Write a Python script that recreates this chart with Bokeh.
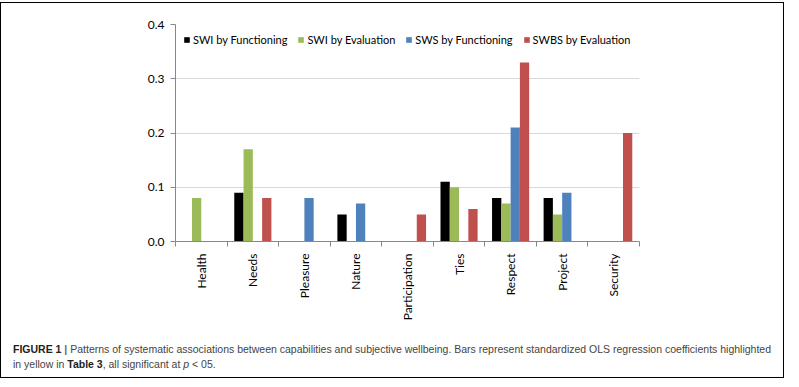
import math
import numpy as np
from bokeh.plotting import figure
from bokeh.models import Range1d, FixedTicker, Legend, LegendItem, Div, ColumnDataSource
from bokeh.layouts import column
from bokeh.transform import dodge
from bokeh.embed import file_html
from bokeh.resources import INLINE

categories = ["Health", "Needs", "Pleasure", "Nature", "Participation",
              "Ties", "Respect", "Project", "Security"]
swi_functioning = [0.0, 0.09, 0.0, 0.05, 0.0, 0.11, 0.08, 0.08, 0.0]
swi_evaluation = [0.08, 0.17, 0.0, 0.0, 0.0, 0.10, 0.07, 0.05, 0.0]
sws_functioning = [0.0, 0.0, 0.08, 0.07, 0.0, 0.0, 0.21, 0.09, 0.0]
swbs_evaluation = [0.0, 0.08, 0.0, 0.0, 0.05, 0.06, 0.33, 0.0, 0.20]
series_names = ["SWI by Functioning", "SWI by Evaluation",
                "SWS by Functioning", "SWBS by Evaluation"]
series_colors = ["#000000", "#9BBB59", "#4F81BD", "#C0504D"]
y_ticks = [0.0, 0.1, 0.2, 0.3, 0.4]

n = len(categories)
centers = list(np.arange(n) + 0.5)
source = ColumnDataSource(dict(
    x=centers, s0=swi_functioning, s1=swi_evaluation,
    s2=sws_functioning, s3=swbs_evaluation))

FONT = "Lato"

p = figure(frame_width=464, frame_height=217, x_range=Range1d(0, n), y_range=Range1d(0, 0.4),
           output_backend="svg", toolbar_location=None,
           min_border_left=174, min_border_right=140, min_border_top=21,
           min_border_bottom=89)
p.outline_line_color = None
p.xgrid.grid_line_color = None
p.ygrid.grid_line_color = "#d9d9d9"
p.ygrid.ticker = FixedTicker(ticks=y_ticks)

offsets = [-0.27, -0.09, 0.09, 0.27]
renderers = []
for i, (name, col) in enumerate(zip(series_names, series_colors)):
    r = p.vbar(x=dodge("x", offsets[i]), top="s%d" % i, width=0.18, source=source,
               fill_color=col, line_color=None)
    renderers.append(r)

# y axis
p.yaxis.ticker = FixedTicker(ticks=y_ticks)
p.yaxis.major_label_overrides = {t: "%.1f" % t for t in y_ticks}
p.yaxis.axis_line_color = "#888888"
p.yaxis.major_tick_line_color = "#888888"
p.yaxis.major_tick_out = 5
p.yaxis.major_tick_in = 0
p.yaxis.minor_tick_line_color = None
p.yaxis.major_label_text_font = FONT
p.yaxis.major_label_text_font_size = "12px"
p.yaxis.major_label_text_color = "#000000"
p.yaxis.major_label_standoff = 6

# x axis: labels at centres, ticks at boundaries
p.xaxis.ticker = FixedTicker(ticks=centers, minor_ticks=list(range(n + 1)))
p.xaxis.major_label_overrides = {c: lab for c, lab in zip(centers, categories)}
p.xaxis.major_label_orientation = math.pi / 2
p.xaxis.axis_line_color = "#888888"
p.xaxis.major_tick_line_color = None
p.xaxis.major_tick_out = 0
p.xaxis.major_tick_in = 0
p.xaxis.minor_tick_line_color = "#888888"
p.xaxis.minor_tick_out = 5
p.xaxis.minor_tick_in = 0
p.xaxis.major_label_text_font = FONT
p.xaxis.major_label_text_font_size = "12px"
p.xaxis.major_label_text_color = "#000000"
p.xaxis.major_label_standoff = 7

legend = Legend(items=[LegendItem(label=nm, renderers=[r]) for nm, r in zip(series_names, renderers)],
                orientation="horizontal", location="top_left",
                margin=8, padding=0, spacing=10, glyph_width=7, glyph_height=7,
                label_standoff=3, label_height=14, label_text_font=FONT,
                label_text_font_size="11px", label_text_color="#000000",
                background_fill_alpha=0, border_line_color=None)
p.add_layout(legend, "center")

caption = Div(text=(
    '<b style="color:#222">FIGURE 1</b> <b style="color:#666">|</b> Patterns of systematic associations between '
    'capabilities and subjective wellbeing. Bars represent standardized OLS regression coefficients highlighted '
    'in yellow in <b style="color:#222">Table 3</b>, all significant at <i>p</i> &lt; 05.'),
    width=772,
    styles={"font-family": "'Liberation Sans', Arial, sans-serif", "font-size": "10.5px",
            "color": "#444444", "line-height": "15px", "padding-left": "7px",
            "margin-top": "12px", "padding-bottom": "0px"})

layout = column(p, caption, styles={"border": "1.5px solid #000000", "margin-top": "2px"})

open("out.html", "w").write(file_html(layout, INLINE))
